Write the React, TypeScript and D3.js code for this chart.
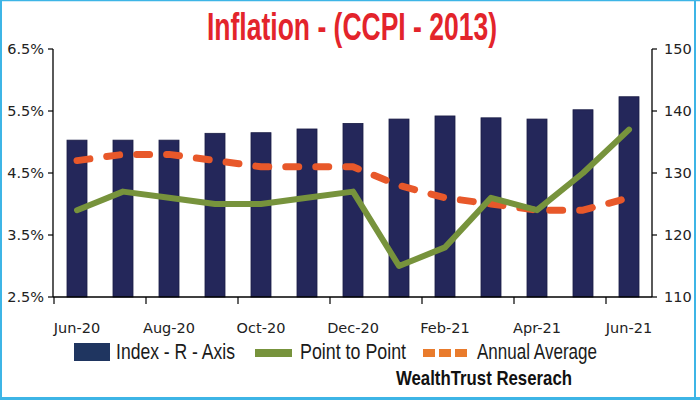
import React from "react";
import * as d3 from "d3";

const months = ["Jun-20","Jul-20","Aug-20","Sep-20","Oct-20","Nov-20","Dec-20","Jan-21","Feb-21","Mar-21","Apr-21","May-21","Jun-21"];
const indexValues = [135.3, 135.3, 135.3, 136.4, 136.5, 137.1, 138.0, 138.7, 139.2, 138.9, 138.7, 140.2, 142.3];
const pointToPoint = [3.9, 4.2, 4.1, 4.0, 4.0, 4.1, 4.2, 3.0, 3.3, 4.1, 3.9, 4.5, 5.2];
const annualAverage = [4.7, 4.8, 4.8, 4.7, 4.6, 4.6, 4.6, 4.3, 4.1, 4.0, 3.9, 3.9, 4.1];
const leftTicks = [2.5, 3.5, 4.5, 5.5, 6.5];
const rightTicks = [110, 120, 130, 140, 150];
const xLabelMonths = ["Jun-20","Aug-20","Oct-20","Dec-20","Feb-21","Apr-21","Jun-21"];

const NAVY = "#24275A";
const GREEN = "#77933C";
const ORANGE = "#E8582A";
const BORDER = "#3DB5E6";
const AXIS_FONT = "'DejaVu Sans', sans-serif";
const NARROW = "'Liberation Sans Narrow', 'Liberation Sans', sans-serif";

export default function App() {
  const left = 53, right = 652, top = 49, bottom = 297;
  const x = d3.scaleBand<string>().domain(months).range([54, 652]).paddingInner(0.565).paddingOuter(0.2825);
  const yL = d3.scaleLinear().domain([2.5, 6.5]).range([bottom, top]);
  const yR = d3.scaleLinear().domain([110, 150]).range([bottom, top]);
  const cx = (m: string) => (x(m) as number) + x.bandwidth() / 2;
  const gap = (x.step() - x.bandwidth()) / 2;

  const lineL = d3.line<number>().x((_, i) => cx(months[i])).y((v) => yL(v));

  const boundaryTicks = months.filter((_, i) => i % 2 === 0).map((m) => (x(m) as number) - gap);

  return (
    <svg width={700} height={400} style={{ position: "fixed", left: 0, top: 0, background: "#fff" }}>
      <rect x={0} y={0} width={700} height={400} fill="#fff" />
      {/* border */}
      <line x1={0} y1={0.5} x2={700} y2={0.5} stroke={BORDER} strokeWidth={1.5} />
      <line x1={1} y1={0} x2={1} y2={400} stroke={BORDER} strokeWidth={2} />
      <line x1={695} y1={0} x2={695} y2={400} stroke={BORDER} strokeWidth={2} />
      <line x1={0} y1={398.5} x2={700} y2={398.5} stroke={BORDER} strokeWidth={3} />

      {/* title */}
      <text x={207} y={40} fontFamily={NARROW} fontWeight="bold" fontSize={38}
        fill="#E3242B" textLength={290} lengthAdjust="spacingAndGlyphs">Inflation - (CCPI - 2013)</text>

      {/* bars */}
      {months.map((m, i) => (
        <rect key={m} x={x(m)} y={yR(indexValues[i])} width={x.bandwidth()} height={bottom - yR(indexValues[i])}
          fill={NAVY} stroke="#1a1c45" strokeWidth={0.8} />
      ))}

      {/* annual average */}
      <path d={lineL(annualAverage) || ""} fill="none" stroke={ORANGE} strokeWidth={7}
        strokeDasharray="13,17" strokeLinecap="round" strokeLinejoin="round" />
      {/* point to point */}
      <path d={lineL(pointToPoint) || ""} fill="none" stroke={GREEN} strokeWidth={6}
        strokeLinecap="round" strokeLinejoin="round" />

      {/* axes */}
      <line x1={left} y1={top} x2={left} y2={bottom} stroke="#000" strokeWidth={1.3} />
      <line x1={right} y1={top} x2={right} y2={bottom} stroke="#000" strokeWidth={1.3} />
      <line x1={left} y1={bottom} x2={right} y2={bottom} stroke="#000" strokeWidth={1.3} />
      {leftTicks.map((t) => (
        <g key={"l" + t}>
          <line x1={left - 5} x2={left} y1={yL(t)} y2={yL(t)} stroke="#000" strokeWidth={1.2} />
          <text x={44} y={yL(t)} dy="0.36em" textAnchor="end" fontFamily={AXIS_FONT} fontSize={14.5} fill="#222">
            {t.toFixed(1)}%
          </text>
        </g>
      ))}
      {rightTicks.map((t) => (
        <g key={"r" + t}>
          <line x1={right} x2={right + 5} y1={yR(t)} y2={yR(t)} stroke="#000" strokeWidth={1.2} />
          <text x={664} y={yR(t)} dy="0.36em" textAnchor="start" fontFamily={AXIS_FONT} fontSize={14.5} fill="#222">
            {t}
          </text>
        </g>
      ))}
      {boundaryTicks.map((bx, i) => (
        <line key={"xt" + i} x1={bx} x2={bx} y1={bottom} y2={bottom + 7} stroke="#000" strokeWidth={1.2} />
      ))}
      {xLabelMonths.map((m) => (
        <text key={"xl" + m} x={cx(m)} y={333} textAnchor="middle" fontFamily={AXIS_FONT} fontSize={14.5} fill="#222">
          {m}
        </text>
      ))}

      {/* legend */}
      <rect x={74} y={343} width={36} height={18} fill="#1F3560" />
      <text x={116} y={359} fontFamily={NARROW} fontSize={21.5} fill="#1a1a1a"
        textLength={119} lengthAdjust="spacingAndGlyphs">Index - R - Axis</text>
      <rect x={255} y={349} width={37} height={8} fill={GREEN} />
      <text x={300} y={359} fontFamily={NARROW} fontSize={21.5} fill="#1a1a1a"
        textLength={106} lengthAdjust="spacingAndGlyphs">Point to Point</text>
      {[0, 1, 2].map((k) => (
        <rect key={"oq" + k} x={423 + k * 16} y={349} width={12} height={8} fill="#E97B2C" />
      ))}
      <text x={477} y={359} fontFamily={NARROW} fontSize={21.5} fill="#1a1a1a"
        textLength={120} lengthAdjust="spacingAndGlyphs">Annual Average</text>

      <text x={396} y={385} fontFamily={NARROW} fontWeight="bold" fontSize={21} fill="#111"
        textLength={176} lengthAdjust="spacingAndGlyphs">WealthTrust Reserach</text>
    </svg>
  );
}
